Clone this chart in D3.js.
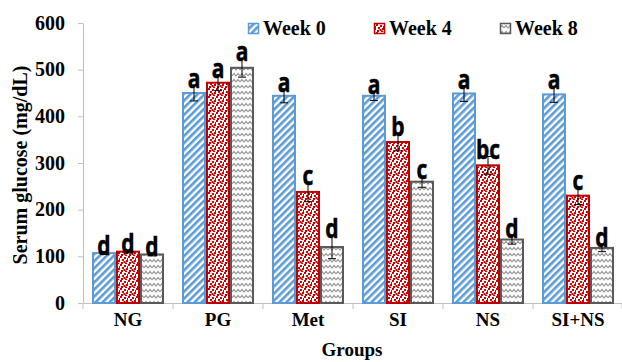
<!DOCTYPE html>
<html>
<head>
<meta charset="utf-8">
<script src="https://cdn.jsdelivr.net/npm/d3@7"></script>
<style>
  html, body { margin: 0; padding: 0; background: #fff; }
  svg { display: block; }
</style>
</head>
<body>
<svg id="chart" width="622" height="362"></svg>
<script>
const categories = ["NG", "PG", "Met", "SI", "NS", "SI+NS"];
const seriesNames = ["Week 0", "Week 4", "Week 8"];
const week0 = [107, 450, 444, 444, 449, 447];
const week4 = [110, 472, 238, 345, 295, 230];
const week8 = [104, 504, 120, 260, 136, 118];
const err0 = [3, 17, 15, 10, 17, 17];
const err4 = [3, 17, 21, 19, 19, 19];
const err8 = [3, 20, 25, 12, 10, 8];
const letters0 = ["d", "a", "a", "a", "a", "a"];
const letters4 = ["d", "a", "c", "b", "bc", "c"];
const letters8 = ["d", "a", "d", "c", "d", "d"];
const yTicks = [0, 100, 200, 300, 400, 500, 600];
const yTitle = "Serum glucose (mg/dL)";
const xTitle = "Groups";

const svg = d3.select("#chart");
const serif = "'Liberation Serif', 'Times New Roman', serif";

// patterns
const defs = svg.append("defs");
const p0 = defs.append("pattern").attr("id", "pat0").attr("patternUnits", "userSpaceOnUse")
  .attr("width", 5).attr("height", 5).attr("patternTransform", "rotate(45)");
p0.append("rect").attr("width", 5).attr("height", 5).attr("fill", "#ffffff");
p0.append("rect").attr("width", 2.6).attr("height", 5).attr("fill", "#5b9bd5");

const p1 = defs.append("pattern").attr("id", "pat1").attr("patternUnits", "userSpaceOnUse")
  .attr("width", 8).attr("height", 8);
p1.append("rect").attr("width", 8).attr("height", 8).attr("fill", "#ffffff");
[[0,0],[4,1],[2,3],[6,4],[1,6],[5,6.5],[3.5,5],[7,2]].forEach(([a,b]) =>
  p1.append("rect").attr("x", a).attr("y", b).attr("width", 2).attr("height", 2).attr("fill", "#cc0000"));

const p2 = defs.append("pattern").attr("id", "pat2").attr("patternUnits", "userSpaceOnUse")
  .attr("width", 8).attr("height", 6);
p2.append("rect").attr("width", 8).attr("height", 6).attr("fill", "#ffffff");
p2.append("path").attr("d", "M0,4 L2,1.5 L4,4 L6,1.5 L8,4").attr("fill", "none")
  .attr("stroke", "#999999").attr("stroke-width", 1.2);

const fills = ["url(#pat0)", "url(#pat1)", "url(#pat2)"];
const strokes = ["#5b9bd5", "#c00000", "#595959"];

// scales
const y = d3.scaleLinear().domain([0, 600]).range([303, 23]);
const x = d3.scaleBand().domain(categories).range([83, 623]).padding(0);
const x1 = d3.scaleBand().domain(seriesNames).range([9, 81]).padding(0);

// axes
const yAxis = svg.append("g").attr("transform", "translate(83,0)")
  .call(d3.axisLeft(y).tickValues(yTicks).tickSize(5).tickSizeOuter(0).tickPadding(13));
yAxis.select(".domain").attr("stroke", "#bfbfbf");
yAxis.selectAll(".tick line").attr("stroke", "#bfbfbf");
yAxis.selectAll("text").attr("font-family", serif).attr("font-size", 20)
  .attr("font-weight", "bold").attr("fill", "#000").attr("dy", "0.3em");

const xAxis = svg.append("g").attr("transform", "translate(0,303)")
  .call(d3.axisBottom(x).tickSize(0).tickSizeOuter(0));
xAxis.select(".domain").attr("stroke", "#bfbfbf");
xAxis.selectAll("text").attr("font-family", serif).attr("font-size", 19)
  .attr("font-weight", "bold").attr("fill", "#000").attr("y", 23).attr("dy", 0);
// category boundary ticks
const bounds = categories.map(c => x(c)).concat([x.range()[1] - 1]);
svg.append("g").selectAll("line").data(bounds).join("line")
  .attr("x1", d => d).attr("x2", d => d).attr("y1", 303).attr("y2", 309)
  .attr("stroke", "#bfbfbf");

// data table
const values = [week0, week4, week8];
const errs = [err0, err4, err8];
const letters = [letters0, letters4, letters8];
const rows = [];
categories.forEach((c, i) => seriesNames.forEach((s, j) => {
  rows.push({ cat: c, s: s, j: j, v: values[j][i], e: errs[j][i], l: letters[j][i] });
}));

const bars = svg.append("g");
bars.selectAll("rect").data(rows).join("rect")
  .attr("x", d => x(d.cat) + x1(d.s) + 1)
  .attr("width", x1.bandwidth() - 2)
  .attr("y", d => y(d.v))
  .attr("height", d => y(0) - y(d.v))
  .attr("fill", d => fills[d.j])
  .attr("stroke", d => strokes[d.j])
  .attr("stroke-width", 2);

// error bars
const eg = svg.append("g").attr("stroke", "#000").attr("stroke-width", 1);
rows.forEach(d => {
  const cx = x(d.cat) + x1(d.s) + x1.bandwidth() / 2;
  eg.append("line").attr("x1", cx).attr("x2", cx).attr("y1", y(d.v + d.e)).attr("y2", y(d.v - d.e));
  eg.append("line").attr("x1", cx - 4).attr("x2", cx + 4).attr("y1", y(d.v + d.e)).attr("y2", y(d.v + d.e));
  eg.append("line").attr("x1", cx - 4).attr("x2", cx + 4).attr("y1", y(d.v - d.e)).attr("y2", y(d.v - d.e));
});

// significance letters
svg.append("g").selectAll("text").data(rows).join("text")
  .attr("transform", d => `translate(${x(d.cat) + x1(d.s) + x1.bandwidth() / 2},${y(d.v + d.e) + 3}) scale(1,1.3)`)
  .attr("text-anchor", "middle")
  .attr("font-family", "'Open Sans', sans-serif")
  .attr("font-weight", "bold")
  .attr("font-size", 21)
  .attr("fill", "#000")
  .attr("stroke", "#000").attr("stroke-width", 0.4)
  .text(d => d.l);

// legend
const legendX = [248, 374, 500];
const lg = svg.append("g");
seriesNames.forEach((s, j) => {
  lg.append("rect").attr("x", legendX[j] + 0.5).attr("y", 23.5).attr("width", 10).attr("height", 10)
    .attr("fill", fills[j]).attr("stroke", strokes[j]).attr("stroke-width", 1.5);
  lg.append("text").attr("x", legendX[j] + 15).attr("y", 35)
    .attr("font-family", serif).attr("font-size", 20).attr("font-weight", "bold")
    .attr("fill", "#000").text(s);
});

// titles
svg.append("text").attr("transform", "translate(27,165) rotate(-90)")
  .attr("text-anchor", "middle").attr("font-family", serif).attr("font-size", 20)
  .attr("font-weight", "bold").attr("fill", "#000").text(yTitle);
svg.append("text").attr("x", 352).attr("y", 356)
  .attr("text-anchor", "middle").attr("font-family", serif).attr("font-size", 19)
  .attr("font-weight", "bold").attr("fill", "#000").text(xTitle);
</script>
</body>
</html>
